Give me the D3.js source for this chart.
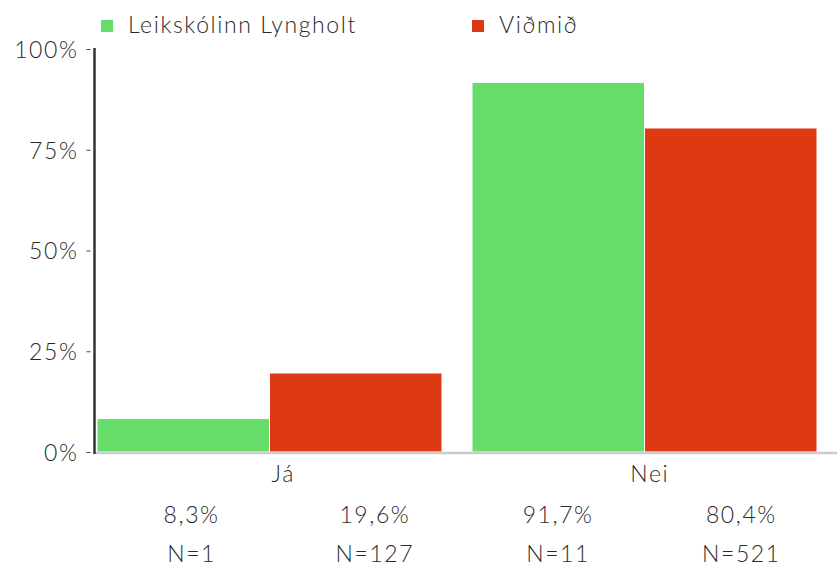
<!DOCTYPE html>
<html>
<head>
<meta charset="utf-8">
<script src="https://cdn.jsdelivr.net/npm/d3@7/dist/d3.min.js"></script>
<style>
  html, body { margin: 0; padding: 0; background: #fff; }
  svg text { font-family: Lato, "Open Sans", sans-serif; font-weight: 300; fill: #2a2a2a; letter-spacing: 1.6px; }
</style>
</head>
<body>
<svg id="chart" width="837" height="566"></svg>
<script>
// Answer categories and the two compared groups
const categories = ["Já", "Nei"];
const seriesNames = ["Leikskólinn Lyngholt", "Viðmið"];
const seriesColors = ["#66dd6a", "#dd3a14"];
// Share of answers (%) per series, in category order
const lyngholtValues = [8.3, 91.7];
const vidmidValues = [19.6, 80.4];
// Respondent counts per series, in category order
const lyngholtN = [1, 11];
const vidmidN = [127, 521];
const yTicks = [0, 25, 50, 75, 100];

const svg = d3.select("#chart");
const W = 837;
const fontSize = 23;
const baseY = 452;
const topY = 49;

const x = d3.scaleBand().domain(categories).range([82, 832])
  .paddingInner(0.08).paddingOuter(0.04);
const xs = d3.scaleBand().domain(seriesNames).range([0, x.bandwidth()]);
const y = d3.scaleLinear().domain([0, 100]).range([baseY, topY]);

const rows = categories.map((c, i) => ({
  cat: c,
  vals: [
    { s: seriesNames[0], v: lyngholtValues[i], n: lyngholtN[i], color: seriesColors[0] },
    { s: seriesNames[1], v: vidmidValues[i], n: vidmidN[i], color: seriesColors[1] }
  ]
}));

// Bars
svg.append("g").selectAll("g.cat").data(rows).join("g")
  .attr("class", "cat")
  .attr("transform", d => `translate(${x(d.cat)},0)`)
  .selectAll("rect").data(d => d.vals).join("rect")
  .attr("x", d => xs(d.s))
  .attr("width", xs.bandwidth())
  .attr("y", d => y(d.v))
  .attr("height", d => baseY - y(d.v))
  .attr("fill", d => d.color)
  .attr("stroke", "#fff")
  .attr("stroke-width", 1);

// Baseline
svg.append("line")
  .attr("x1", 95).attr("x2", W).attr("y1", baseY + 1).attr("y2", baseY + 1)
  .attr("stroke", "#cccccc").attr("stroke-width", 2.5);

// Y axis
const yAxis = svg.append("g").attr("transform", "translate(94.5,0)")
  .call(d3.axisLeft(y).tickValues(yTicks).tickFormat(d => d + "%").tickSize(4).tickPadding(12));
yAxis.select(".domain").attr("stroke", "#333").attr("stroke-width", 2.5)
  .attr("d", `M0,${y(100) - 1}V${baseY + 2}`);
yAxis.selectAll(".tick line").attr("stroke", "#444").attr("x1", -8).attr("x2", -4);
yAxis.selectAll(".tick text").attr("font-size", fontSize).attr("fill", "#2a2a2a")
  .attr("font-family", null).attr("dy", "0.36em");

// Bottom table: category names, value labels and N counts
const cols = d3.scaleBand().domain(d3.range(4)).range([100, 833]);
const flat = rows.flatMap(r => r.vals);
svg.selectAll("text.cat").data(categories).join("text")
  .attr("class", "cat")
  .attr("x", (d, i) => cols(i * 2) + cols.bandwidth())
  .attr("y", 482)
  .attr("text-anchor", "middle")
  .attr("font-size", fontSize)
  .text(d => d);
svg.selectAll("text.val").data(flat).join("text")
  .attr("class", "val")
  .attr("x", (d, i) => cols(i) + cols.bandwidth() / 2)
  .attr("y", 523)
  .attr("text-anchor", "middle")
  .attr("font-size", fontSize)
  .text(d => d3.format(".1f")(d.v).replace(".", ",") + "%");
svg.selectAll("text.n").data(flat).join("text")
  .attr("class", "n")
  .attr("x", (d, i) => cols(i) + cols.bandwidth() / 2)
  .attr("y", 562)
  .attr("text-anchor", "middle")
  .attr("font-size", fontSize)
  .text(d => "N=" + d.n);

// Legend
const legendX = [101, 472];
const lg = svg.selectAll("g.legend").data(seriesNames).join("g")
  .attr("class", "legend")
  .attr("transform", (d, i) => `translate(${legendX[i]},0)`);
lg.append("rect").attr("x", 0).attr("y", 20).attr("width", 12).attr("height", 12)
  .attr("fill", (d, i) => seriesColors[i]);
lg.append("text").attr("x", 27).attr("y", 33).attr("font-size", fontSize).text(d => d);
</script>
</body>
</html>
